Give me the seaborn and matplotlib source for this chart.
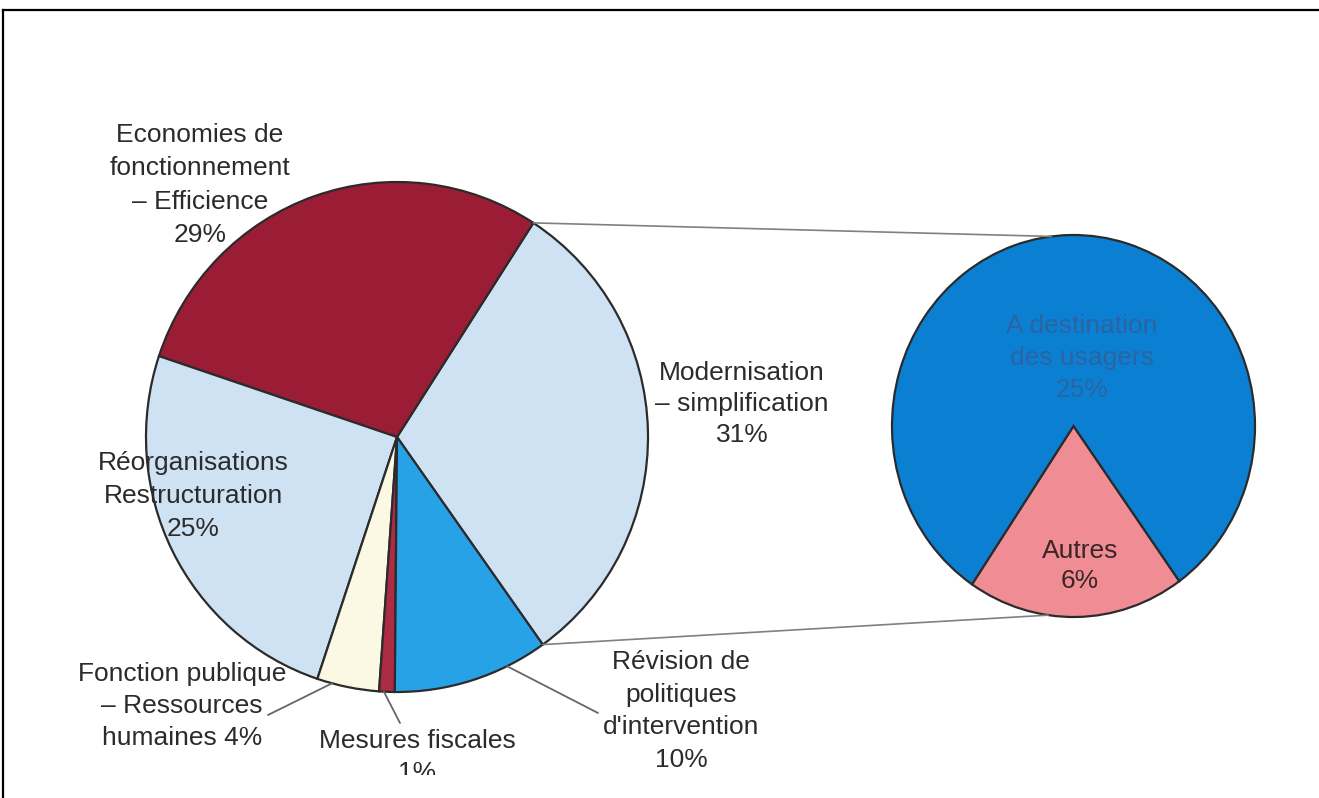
import numpy as np
import matplotlib

matplotlib.use("Agg")
import matplotlib.pyplot as plt
import seaborn as sns
from matplotlib.patches import ConnectionPatch
from matplotlib.transforms import Bbox

# -------------------------
# Data
# -------------------------
main_labels = [
    "Modernisation\n– simplification\n31%",
    "Economies de\nfonctionnement\n– Efficience\n29%",
    "Réorganisations\nRestructuration\n25%",
    "Fonction publique\n– Ressources\nhumaines 4%",
    "Mesures fiscales\n1%",
    "Révision de\npolitiques\nd'intervention\n10%",
]
main_values = [31, 29, 25, 4, 1, 10]
main_colors = ["#cfe2f4", "#9b1d35", "#cfe2f4", "#fbf8e3", "#ad2c45", "#28a2e6"]

sub_labels = ["Autres\n6%", "A destination\ndes usagers\n25%"]
sub_values = [6, 25]
sub_colors = ["#f08c93", "#0b80d3"]

# -------------------------
# Layout (pixels, origin top-left)
# -------------------------
W, H = 1319, 798
MAIN = (397, 437, 251, 255)     # cx, cy, rx, ry
SUB = (1073.5, 426, 181.5, 191)
PAD = 1.03

main_text_pos = [(742, 404, 1.35), (200, 185, 1.5), (193, 496, 1.46),
                 (182, 706, 1.44), (417, 757, 1.44), (681, 711, 1.46)]
sub_text_pos = [(1080, 566, 1.3), (1082, 358, 1.44)]
sub_text_colors = ["#3a2626", "#2c64a0"]

# leader lines: start point near the label, angle on the main pie
leaders = {3: ((268, 715), 255), 4: ((400, 723), 267), 5: ((598, 713), 296)}

sns.set_theme(style="white")
plt.rcParams["font.family"] = ["Liberation Sans", "DejaVu Sans"]

fig = plt.figure(figsize=(W / 100, H / 100), dpi=100)


def rect(cx, cy, rx, ry):
    return [(cx - rx * PAD) / W, (H - cy - ry * PAD) / H,
            2 * rx * PAD / W, 2 * ry * PAD / H]


# frame of the scan (left + top rule)
ax_bg = fig.add_axes([3 / W, 0, 1 - 3 / W, (H - 10) / H])
ax_bg.set_xticks([])
ax_bg.set_yticks([])
ax_bg.patch.set_alpha(0)
for side in ["right", "bottom"]:
    ax_bg.spines[side].set_visible(False)
for side in ["left", "top"]:
    ax_bg.spines[side].set_color("black")
    ax_bg.spines[side].set_linewidth(1.6)

edge = dict(edgecolor="#2b2b2b", linewidth=1.6)

ax_main = fig.add_axes(rect(*MAIN))
wedges, _ = ax_main.pie(main_values, colors=main_colors, startangle=-54.5,
                        counterclock=True, wedgeprops=edge)
ax_main.set_xlim(-PAD, PAD)
ax_main.set_ylim(-PAD, PAD)
ax_main.set_aspect("auto")

ax_sub = fig.add_axes(rect(*SUB))
ax_sub.pie(sub_values, colors=sub_colors, startangle=236,
           counterclock=True, wedgeprops=edge)
ax_sub.set_xlim(-PAD, PAD)
ax_sub.set_ylim(-PAD, PAD)
ax_sub.set_aspect("auto")

# -------------------------
# Connector lines between pies
# -------------------------
top_a = wedges[0].theta2
bot_a = wedges[0].theta1
for a, b in [(top_a, 97), (bot_a, 262)]:
    con = ConnectionPatch(
        xyA=(np.cos(np.radians(a)), np.sin(np.radians(a))), coordsA=ax_main.transData,
        xyB=(np.cos(np.radians(b)), np.sin(np.radians(b))), coordsB=ax_sub.transData,
        color="#808080", linewidth=1.2)
    fig.add_artist(con)

for i, ((sx, sy), ang) in leaders.items():
    con = ConnectionPatch(
        xyA=(sx, H - sy), coordsA="figure pixels",
        xyB=(np.cos(np.radians(ang)), np.sin(np.radians(ang))), coordsB=ax_main.transData,
        color="#666666", linewidth=1.3)
    fig.add_artist(con)

# -------------------------
# Labels
# -------------------------
clip = Bbox.from_extents(0, H - 775, W, H)
for lab, (x, y, ls) in zip(main_labels, main_text_pos):
    t = fig.text(x / W, 1 - y / H, lab, ha="center", va="center", fontsize=19,
                 color="#2b2b2b", linespacing=ls)
    if lab.startswith("Mesures"):
        t.set_clip_on(True)
        t.set_clip_box(clip)

for lab, (x, y, ls), c in zip(sub_labels, sub_text_pos, sub_text_colors):
    fig.text(x / W, 1 - y / H, lab, ha="center", va="center", fontsize=19,
             color=c, linespacing=ls)

plt.savefig("out.png", dpi=100, facecolor="white")
plt.close()
